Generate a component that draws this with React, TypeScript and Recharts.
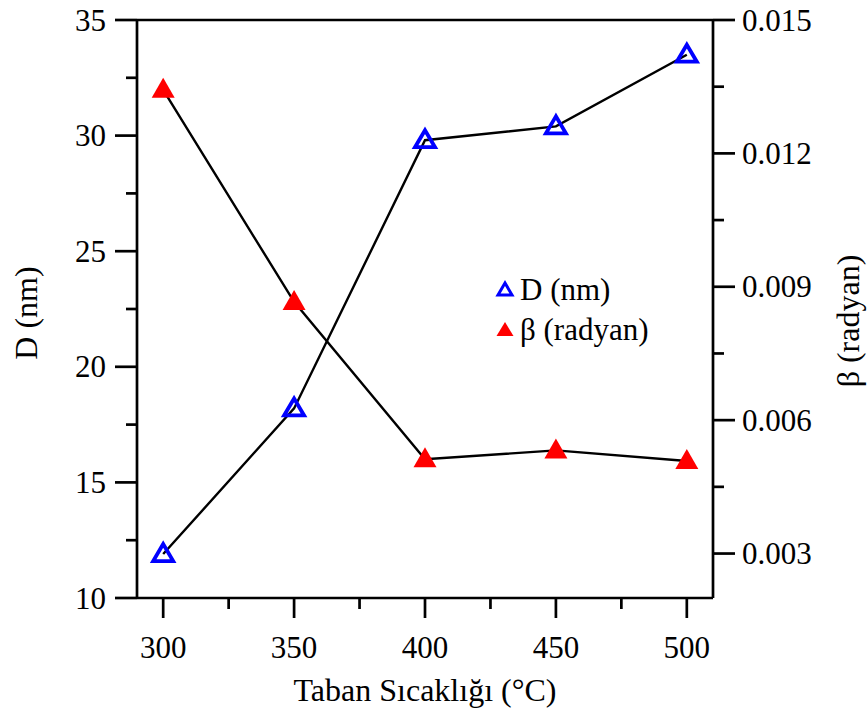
import React from "react"
import { LineChart, Line, XAxis, YAxis, Legend, ReferenceLine } from "recharts"

const temps = [300, 350, 400, 450, 500]
const dValues = [11.9, 18.2, 29.8, 30.4, 33.5]
const betaValues = [0.01343, 0.00866, 0.00512, 0.00532, 0.00508]

const xTicks = [300, 325, 350, 375, 400, 425, 450, 475, 500]
const xMajor = [300, 350, 400, 450, 500]
const leftTicks = [10, 12.5, 15, 17.5, 20, 22.5, 25, 27.5, 30, 32.5, 35]
const leftMajor = [10, 15, 20, 25, 30, 35]
const rightTicks = [0.003, 0.0045, 0.006, 0.0075, 0.009, 0.0105, 0.012, 0.0135, 0.015]
const rightMajor = [0.003, 0.006, 0.009, 0.012, 0.015]

const data = temps.map((t, i) => ({ t, d: dValues[i], beta: betaValues[i] }))

const FONT = '"Liberation Serif", "Times New Roman", serif'
const isMajor = (list: number[], v: number) => list.some((m) => Math.abs(m - v) < 1e-9)

const LeftTick = (props: any) => {
  const { x, y, payload } = props
  const major = isMajor(leftMajor, payload.value)
  return (
    <g>
      <line x1={x} x2={x - (major ? 22 : 11)} y1={y} y2={y} stroke="#000" strokeWidth={2.7} />
      {major && (
        <text x={x - 31} y={y} textAnchor="end" dominantBaseline="central" fontFamily={FONT} fontSize={31} fill="#000">
          {payload.value}
        </text>
      )}
    </g>
  )
}

const RightTick = (props: any) => {
  const { x, y, payload } = props
  const major = isMajor(rightMajor, payload.value)
  return (
    <g>
      <line x1={x} x2={x + (major ? 22 : 11)} y1={y} y2={y} stroke="#000" strokeWidth={2.7} />
      {major && (
        <text x={x + 29} y={y} textAnchor="start" dominantBaseline="central" fontFamily={FONT} fontSize={31} fill="#000">
          {payload.value.toFixed(3)}
        </text>
      )}
    </g>
  )
}

const BottomTick = (props: any) => {
  const { x, y, payload } = props
  const major = isMajor(xMajor, payload.value)
  return (
    <g>
      <line x1={x} x2={x} y1={y} y2={y + (major ? 20 : 11)} stroke="#000" strokeWidth={2.7} />
      {major && (
        <text x={x} y={y + 49} textAnchor="middle" dominantBaseline="central" fontFamily={FONT} fontSize={31} fill="#000">
          {payload.value}
        </text>
      )}
    </g>
  )
}

const LeftTitle = (props: any) => {
  const vb = props.viewBox || { x: 0, y: 20, width: 137, height: 578 }
  const cx = vb.x + 26
  const cy = vb.y + vb.height / 2 + 4
  return (
    <text x={cx} y={cy} transform={`rotate(-90 ${cx} ${cy})`} textAnchor="middle" dominantBaseline="central" fontFamily={FONT} fontSize={32} fill="#000">
      D (nm)
    </text>
  )
}

const RightTitle = (props: any) => {
  const vb = props.viewBox || { x: 713, y: 20, width: 154, height: 578 }
  const cx = vb.x + 135
  const cy = vb.y + vb.height / 2 + 12
  return (
    <text x={cx} y={cy} transform={`rotate(-90 ${cx} ${cy})`} textAnchor="middle" dominantBaseline="central" fontFamily={FONT} fontSize={32} fill="#000">
      β (radyan)
    </text>
  )
}

const BottomTitle = (props: any) => {
  const vb = props.viewBox || { x: 137, y: 598, width: 576, height: 115 }
  return (
    <text x={vb.x + vb.width / 2} y={vb.y + 92} textAnchor="middle" dominantBaseline="central" fontFamily={FONT} fontSize={32} fill="#000">
      Taban Sıcaklığı (°C)
    </text>
  )
}

const OpenTriangle = (props: any) => {
  const { cx, cy } = props
  if (cx == null || cy == null) return null
  return (
    <polygon
      points={`${cx},${cy - 10} ${cx - 10},${cy + 7} ${cx + 10},${cy + 7}`}
      fill="none"
      stroke="#0000ff"
      strokeWidth={3.8}
      strokeLinejoin="miter"
    />
  )
}

const FilledTriangle = (props: any) => {
  const { cx, cy } = props
  if (cx == null || cy == null) return null
  return (
    <polygon
      points={`${cx},${cy - 12} ${cx - 11.5},${cy + 8} ${cx + 11.5},${cy + 8}`}
      fill="#ff0000"
      stroke="none"
    />
  )
}

const LegendBox = () => (
  <div style={{ fontFamily: FONT, fontSize: 31, color: "#000" }}>
    <div style={{ display: "flex", alignItems: "center", height: 40 }}>
      <svg width={22} height={20} style={{ marginRight: 3 }}>
        <polygon points="10,3 3,15 17,15" fill="none" stroke="#0000ff" strokeWidth={3} />
      </svg>
      <span>D (nm)</span>
    </div>
    <div style={{ display: "flex", alignItems: "center", height: 40 }}>
      <svg width={22} height={20} style={{ marginRight: 3 }}>
        <polygon points="10,2 1.5,16 18.5,16" fill="#ff0000" />
      </svg>
      <span>β (radyan)</span>
    </div>
  </div>
)

export default function App() {
  return (
    <div style={{ position: "absolute", left: 0, top: 0, background: "#fff" }}>
      <LineChart width={867} height={713} data={data} margin={{ top: 20, right: 0, bottom: 0, left: 0 }}>
        <XAxis
          dataKey="t"
          type="number"
          domain={[290, 510]}
          ticks={xTicks}
          interval={0}
          allowDataOverflow
          height={115}
          tickSize={0}
          tickMargin={0}
          tickLine={false}
          axisLine={{ stroke: "#000", strokeWidth: 2.7 }}
          tick={<BottomTick />}
          label={<BottomTitle />}
        />
        <YAxis
          yAxisId="left"
          orientation="left"
          type="number"
          domain={[10, 35]}
          ticks={leftTicks}
          interval={0}
          allowDataOverflow
          width={137}
          tickSize={0}
          tickMargin={0}
          tickLine={false}
          axisLine={{ stroke: "#000", strokeWidth: 2.7 }}
          tick={<LeftTick />}
          label={<LeftTitle />}
        />
        <YAxis
          yAxisId="right"
          orientation="right"
          type="number"
          domain={[0.002, 0.015]}
          ticks={rightTicks}
          interval={0}
          allowDataOverflow
          width={154}
          tickSize={0}
          tickMargin={0}
          tickLine={false}
          axisLine={{ stroke: "#000", strokeWidth: 2.7 }}
          tick={<RightTick />}
          label={<RightTitle />}
        />
        <ReferenceLine yAxisId="left" y={35} stroke="#000" strokeWidth={2.7} />
        <Legend
          layout="horizontal"
          verticalAlign="middle"
          align="center"
          content={<LegendBox />}
          wrapperStyle={{ left: 495, top: 270, width: 200 }}
        />
        <Line
          yAxisId="left"
          dataKey="d"
          name="D (nm)"
          stroke="#000"
          strokeWidth={2.4}
          dot={<OpenTriangle />}
          activeDot={false}
          isAnimationActive={false}
        />
        <Line
          yAxisId="right"
          dataKey="beta"
          name="β (radyan)"
          stroke="#000"
          strokeWidth={2.4}
          dot={<FilledTriangle />}
          activeDot={false}
          isAnimationActive={false}
        />
      </LineChart>
    </div>
  )
}
